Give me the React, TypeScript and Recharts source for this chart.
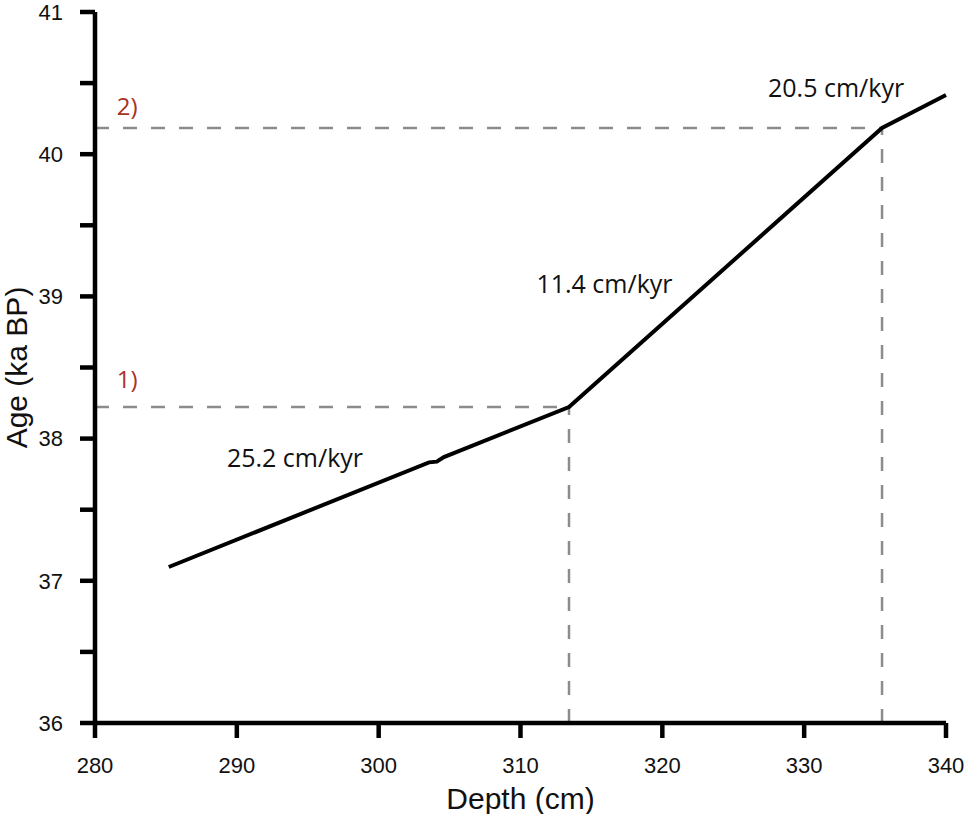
import {
  LineChart,
  Line,
  XAxis,
  YAxis,
  ReferenceLine,
  ReferenceDot,
  Label,
} from "recharts";

// age model: depth (cm) vs age (ka BP)
const depths = [285.2, 303.55, 304.1, 304.6, 313.42, 335.49, 340];
const ages = [37.097, 37.833, 37.838, 37.87, 38.222, 40.184, 40.416];

const xTicks = [280, 290, 300, 310, 320, 330, 340];
const yTicks = [36, 36.5, 37, 37.5, 38, 38.5, 39, 39.5, 40, 40.5, 41];

// tie points 1) and 2)
const tieLabels = ["1)", "2)"];
const tieDepths = [313.42, 335.49];
const tieAges = [38.222, 40.184];

// sedimentation rates and where their text sits (data units)
const rateLabels = ["25.2 cm/kyr", "11.4 cm/kyr", "20.5 cm/kyr"];
const rateDepths = [294.1, 315.92, 332.25];
const rateAges = [37.865, 39.084, 40.462];

const tieTextDepth = 282.27;
const tieTextAges = [38.419, 40.339];

const data = depths.map((d, i) => ({ depth: d, age: ages[i] }));

const axisFont = "'Liberation Sans', Arial, sans-serif";
const noteFont = "'Open Sans', 'Noto Sans', sans-serif";
const dashColor = "#8c8c8c";

const renderYTitle = (props: any) => {
  const vb = props.viewBox;
  const cx = vb.x + 26.5;
  const cy = vb.y + vb.height / 2;
  return (
    <text
      x={cx}
      y={cy}
      transform={`rotate(-90 ${cx} ${cy})`}
      textAnchor="middle"
      fontSize={30}
      fontFamily={axisFont}
      fill="#111"
    >
      Age (ka BP)
    </text>
  );
};

const renderXTitle = (props: any) => {
  const vb = props.viewBox;
  return (
    <text
      x={vb.x + vb.width / 2}
      y={vb.y + 86}
      textAnchor="middle"
      fontSize={30}
      fontFamily={axisFont}
      fill="#111"
    >
      Depth (cm)
    </text>
  );
};

export default function App() {
  return (
    <div style={{ position: "absolute", left: 0, top: 0 }}>
      <LineChart
        width={969}
        height={814}
        data={data}
        margin={{ top: 12, right: 23, left: 0, bottom: 0 }}
      >
        <XAxis
          dataKey="depth"
          type="number"
          domain={[280, 340]}
          ticks={xTicks}
          interval={0}
          height={91}
          tickSize={15}
          tickMargin={19}
          fontSize={22}
          fontFamily={axisFont}
          axisLine={{ stroke: "#000", strokeWidth: 4.5 }}
          tickLine={{ stroke: "#000", strokeWidth: 4.5 }}
          tick={{ fill: "#111", fontSize: 22, fontFamily: axisFont }}
        >
          <Label content={renderXTitle} />
        </XAxis>
        <YAxis
          type="number"
          domain={[36, 41]}
          ticks={yTicks}
          interval={0}
          width={95}
          tickSize={15}
          tickMargin={17}
          fontSize={22}
          fontFamily={axisFont}
          tickFormatter={(v: number) => (Number.isInteger(v) ? String(v) : "")}
          axisLine={{ stroke: "#000", strokeWidth: 4.5 }}
          tickLine={{ stroke: "#000", strokeWidth: 4.5 }}
          tick={{ fill: "#111", fontSize: 22, fontFamily: axisFont }}
        >
          <Label content={renderYTitle} />
        </YAxis>

        {tieDepths.map((d, i) => (
          <ReferenceLine
            key={"h" + i}
            segment={[
              { x: 280, y: tieAges[i] },
              { x: d, y: tieAges[i] },
            ]}
            stroke={dashColor}
            strokeWidth={2.5}
            strokeDasharray="14 14"
          />
        ))}
        {tieDepths.map((d, i) => (
          <ReferenceLine
            key={"v" + i}
            segment={[
              { x: d, y: 36 },
              { x: d, y: tieAges[i] },
            ]}
            stroke={dashColor}
            strokeWidth={2.5}
            strokeDasharray="14 14"
          />
        ))}

        {tieLabels.map((t, i) => (
          <ReferenceDot
            key={t}
            x={tieTextDepth}
            y={tieTextAges[i]}
            r={1}
            fill="none"
            stroke="none"
            label={{
              value: t,
              position: "center",
              fill: "#a93226",
              fontSize: 24,
              fontFamily: noteFont,
            }}
          />
        ))}
        {rateLabels.map((t, i) => (
          <ReferenceDot
            key={t}
            x={rateDepths[i]}
            y={rateAges[i]}
            r={1}
            fill="none"
            stroke="none"
            label={{
              value: t,
              position: "center",
              fill: "#111",
              fontSize: 25,
              fontFamily: noteFont,
            }}
          />
        ))}

        <Line
          type="linear"
          dataKey="age"
          stroke="#000"
          strokeWidth={4}
          dot={false}
          isAnimationActive={false}
        />
      </LineChart>
    </div>
  );
}
